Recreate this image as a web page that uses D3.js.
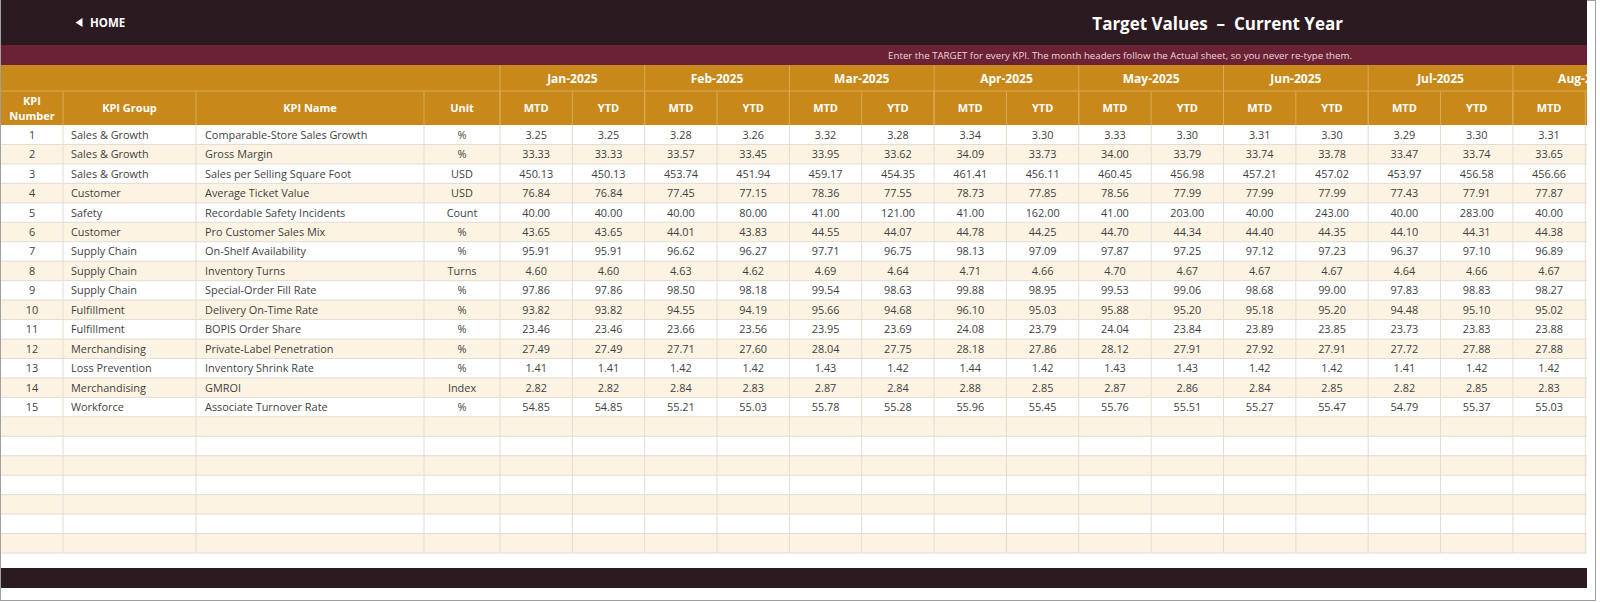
<!DOCTYPE html>
<html>
<head>
<meta charset="utf-8">
<script src="https://cdn.jsdelivr.net/npm/d3@7"></script>
<style>
  body { margin: 0; background: #fff; }
  svg { display: block; font-family: "Open Sans", "Noto Sans", sans-serif; }
</style>
</head>
<body>
<svg id="sheet"></svg>
<script>
// ---- data ----
const months = ["Jan-2025", "Feb-2025", "Mar-2025", "Apr-2025", "May-2025", "Jun-2025", "Jul-2025", "Aug-2025"];
const periods = ["MTD", "YTD"];

const kpiNumbers = [1, 2, 3, 4, 5, 6, 7, 8, 9, 10, 11, 12, 13, 14, 15];
const kpiGroups = ["Sales & Growth", "Sales & Growth", "Sales & Growth", "Customer", "Safety", "Customer",
  "Supply Chain", "Supply Chain", "Supply Chain", "Fulfillment", "Fulfillment", "Merchandising",
  "Loss Prevention", "Merchandising", "Workforce"];
const kpiNames = ["Comparable-Store Sales Growth", "Gross Margin", "Sales per Selling Square Foot",
  "Average Ticket Value", "Recordable Safety Incidents", "Pro Customer Sales Mix", "On-Shelf Availability",
  "Inventory Turns", "Special-Order Fill Rate", "Delivery On-Time Rate", "BOPIS Order Share",
  "Private-Label Penetration", "Inventory Shrink Rate", "GMROI", "Associate Turnover Rate"];
const units = ["%", "%", "USD", "USD", "Count", "%", "%", "Turns", "%", "%", "%", "%", "%", "Index", "%"];

const janMTD = [3.25, 33.33, 450.13, 76.84, 40.00, 43.65, 95.91, 4.60, 97.86, 93.82, 23.46, 27.49, 1.41, 2.82, 54.85];
const janYTD = [3.25, 33.33, 450.13, 76.84, 40.00, 43.65, 95.91, 4.60, 97.86, 93.82, 23.46, 27.49, 1.41, 2.82, 54.85];
const febMTD = [3.28, 33.57, 453.74, 77.45, 40.00, 44.01, 96.62, 4.63, 98.50, 94.55, 23.66, 27.71, 1.42, 2.84, 55.21];
const febYTD = [3.26, 33.45, 451.94, 77.15, 80.00, 43.83, 96.27, 4.62, 98.18, 94.19, 23.56, 27.60, 1.42, 2.83, 55.03];
const marMTD = [3.32, 33.95, 459.17, 78.36, 41.00, 44.55, 97.71, 4.69, 99.54, 95.66, 23.95, 28.04, 1.43, 2.87, 55.78];
const marYTD = [3.28, 33.62, 454.35, 77.55, 121.00, 44.07, 96.75, 4.64, 98.63, 94.68, 23.69, 27.75, 1.42, 2.84, 55.28];
const aprMTD = [3.34, 34.09, 461.41, 78.73, 41.00, 44.78, 98.13, 4.71, 99.88, 96.10, 24.08, 28.18, 1.44, 2.88, 55.96];
const aprYTD = [3.30, 33.73, 456.11, 77.85, 162.00, 44.25, 97.09, 4.66, 98.95, 95.03, 23.79, 27.86, 1.42, 2.85, 55.45];
const mayMTD = [3.33, 34.00, 460.45, 78.56, 41.00, 44.70, 97.87, 4.70, 99.53, 95.88, 24.04, 28.12, 1.43, 2.87, 55.76];
const mayYTD = [3.30, 33.79, 456.98, 77.99, 203.00, 44.34, 97.25, 4.67, 99.06, 95.20, 23.84, 27.91, 1.43, 2.86, 55.51];
const junMTD = [3.31, 33.74, 457.21, 77.99, 40.00, 44.40, 97.12, 4.67, 98.68, 95.18, 23.89, 27.92, 1.42, 2.84, 55.27];
const junYTD = [3.30, 33.78, 457.02, 77.99, 243.00, 44.35, 97.23, 4.67, 99.00, 95.20, 23.85, 27.91, 1.42, 2.85, 55.47];
const julMTD = [3.29, 33.47, 453.97, 77.43, 40.00, 44.10, 96.37, 4.64, 97.83, 94.48, 23.73, 27.72, 1.41, 2.82, 54.79];
const julYTD = [3.30, 33.74, 456.58, 77.91, 283.00, 44.31, 97.10, 4.66, 98.83, 95.10, 23.83, 27.88, 1.42, 2.85, 55.37];
const augMTD = [3.31, 33.65, 456.66, 77.87, 40.00, 44.38, 96.89, 4.67, 98.27, 95.02, 23.88, 27.88, 1.42, 2.83, 55.03];

const valueColumns = [janMTD, janYTD, febMTD, febYTD, marMTD, marYTD, aprMTD, aprYTD,
  mayMTD, mayYTD, junMTD, junYTD, julMTD, julYTD, augMTD];

const blankRows = 7;

// ---- layout ----
const W = 1600, H = 602;
const left = 1, right = 1587;
const topBar = 45, subBar = 65, head1 = 91, head2 = 125, bodyBottom = 553;
const fixedEdges = [left, 63, 196, 424, 500];
const colW = 72.35;

const C = {
  dark: "#2b1a20",
  crimson: "#6a2234",
  gold: "#c8891a",
  goldLine: "#dba954",
  cream: "#fdf3e2",
  grid: "#e2dcd2",
  text: "#3f3f3f"
};

const svg = d3.select("#sheet").attr("width", W).attr("height", H);

svg.append("defs").append("clipPath").attr("id", "clip")
  .append("rect").attr("x", left).attr("y", 0).attr("width", right - left).attr("height", H);

// outer frame
svg.append("rect")
  .attr("x", 0.5).attr("y", 0.5).attr("width", 1595).attr("height", 600)
  .attr("fill", "#fff").attr("stroke", "#a0a0a0");

const g = svg.append("g").attr("clip-path", "url(#clip)");

// column scales: the sheet runs on past the window, only Aug MTD is fully visible
const colKeys = [];
months.forEach(m => periods.forEach(p => colKeys.push(m + "|" + p)));
const x = d3.scaleBand().domain(colKeys).range([fixedEdges[4], fixedEdges[4] + colW * colKeys.length]);
const visibleKeys = colKeys.slice(0, valueColumns.length);

const nRows = kpiNumbers.length + blankRows;
const y = d3.scaleBand().domain(d3.range(nRows)).range([head2, bodyBottom]);

// top bars
g.append("rect").attr("x", left).attr("y", 0).attr("width", right - left).attr("height", topBar).attr("fill", C.dark);
g.append("rect").attr("x", left).attr("y", topBar).attr("width", right - left).attr("height", subBar - topBar).attr("fill", C.crimson);

g.append("path").attr("d", "M75.5,22.5 L82.5,18 L82.5,27 Z").attr("fill", "#fff");
g.append("text").attr("x", 90).attr("y", 27)
  .attr("fill", "#fff").attr("font-size", 11.5).attr("font-weight", 700).text("HOME");

g.append("text").attr("x", 1343).attr("y", 30)
  .attr("text-anchor", "end").attr("fill", "#fff").attr("font-size", 17).attr("font-weight", 700)
  .style("white-space", "pre").text("Target Values  \u2013  Current Year");

g.append("text").attr("x", 1352).attr("y", 58.5)
  .attr("text-anchor", "end").attr("fill", "#ead7dc").attr("font-size", 9.7)
  .text("Enter the TARGET for every KPI. The month headers follow the Actual sheet, so you never re-type them.");

// gold header
g.append("rect").attr("x", left).attr("y", subBar).attr("width", right - left).attr("height", head2 - subBar).attr("fill", C.gold);

g.append("line").attr("x1", left).attr("x2", right).attr("y1", head1).attr("y2", head1)
  .attr("stroke", C.goldLine);

// month separators (row 1) and cell separators (row 2)
months.forEach(m => {
  const x0 = x(m + "|MTD");
  g.append("line").attr("x1", x0).attr("x2", x0).attr("y1", subBar).attr("y2", head2).attr("stroke", C.goldLine);
  g.append("text").attr("x", x0 + colW).attr("y", head1 - 8)
    .attr("text-anchor", "middle").attr("fill", "#fff").attr("font-size", 12).attr("font-weight", 700).text(m);
});
colKeys.forEach(k => {
  const x0 = x(k);
  g.append("line").attr("x1", x0).attr("x2", x0).attr("y1", head1).attr("y2", head2).attr("stroke", C.goldLine);
});
visibleKeys.forEach(k => {
  g.append("text").attr("x", x(k) + colW / 2).attr("y", head1 + 21)
    .attr("text-anchor", "middle").attr("fill", "#fff").attr("font-size", 11).attr("font-weight", 700)
    .text(k.split("|")[1]);
});
fixedEdges.slice(1, 4).forEach(e => {
  g.append("line").attr("x1", e).attr("x2", e).attr("y1", head1).attr("y2", head2).attr("stroke", C.goldLine);
});

const fixedHeads = ["KPI Group", "KPI Name", "Unit"];
fixedHeads.forEach((h, i) => {
  g.append("text").attr("x", (fixedEdges[i + 1] + fixedEdges[i + 2]) / 2).attr("y", head1 + 21)
    .attr("text-anchor", "middle").attr("fill", "#fff").attr("font-size", 11).attr("font-weight", 700).text(h);
});
const numHead = g.append("text").attr("text-anchor", "middle").attr("fill", "#fff")
  .attr("font-size", 11).attr("font-weight", 700);
numHead.append("tspan").attr("x", 32).attr("y", head1 + 14).text("KPI");
numHead.append("tspan").attr("x", 32).attr("y", head1 + 29).text("Number");

// body rows
g.selectAll(".row-bg")
  .data(d3.range(nRows))
  .join("rect")
  .attr("class", "row-bg")
  .attr("x", left).attr("width", right - left)
  .attr("y", d => y(d)).attr("height", y.bandwidth())
  .attr("fill", d => d % 2 === 0 ? "#fff" : C.cream);

g.selectAll(".hline")
  .data(d3.range(1, nRows + 1))
  .join("line")
  .attr("class", "hline")
  .attr("x1", left).attr("x2", right)
  .attr("y1", d => y.step() * d + head2).attr("y2", d => y.step() * d + head2)
  .attr("stroke", C.grid);

const vEdges = fixedEdges.slice(1).concat(colKeys.map(k => x(k) + colW));
g.selectAll(".vline")
  .data(vEdges)
  .join("line")
  .attr("class", "vline")
  .attr("x1", d => d).attr("x2", d => d)
  .attr("y1", head2).attr("y2", bodyBottom)
  .attr("stroke", C.grid);

const rowText = (i) => y(i) + y.bandwidth() / 2 + 4;

const body = g.append("g").attr("fill", C.text).attr("font-size", 10.9);

body.selectAll(".num").data(kpiNumbers).join("text")
  .attr("x", 32).attr("y", (d, i) => rowText(i)).attr("text-anchor", "middle").text(d => d);
body.selectAll(".grp").data(kpiGroups).join("text")
  .attr("x", fixedEdges[1] + 8).attr("y", (d, i) => rowText(i)).text(d => d);
body.selectAll(".name").data(kpiNames).join("text")
  .attr("x", fixedEdges[2] + 9).attr("y", (d, i) => rowText(i)).text(d => d);
body.selectAll(".unit").data(units).join("text")
  .attr("x", (fixedEdges[3] + fixedEdges[4]) / 2).attr("y", (d, i) => rowText(i))
  .attr("text-anchor", "middle").text(d => d);

const fmt = d3.format(".2f");
visibleKeys.forEach((k, c) => {
  body.append("g").selectAll("text").data(valueColumns[c]).join("text")
    .attr("x", x(k) + colW / 2).attr("y", (d, i) => rowText(i))
    .attr("text-anchor", "middle").text(d => fmt(d));
});

// bottom bar
g.append("rect").attr("x", left).attr("y", 568).attr("width", right - left).attr("height", 20).attr("fill", C.dark);
</script>
</body>
</html>
